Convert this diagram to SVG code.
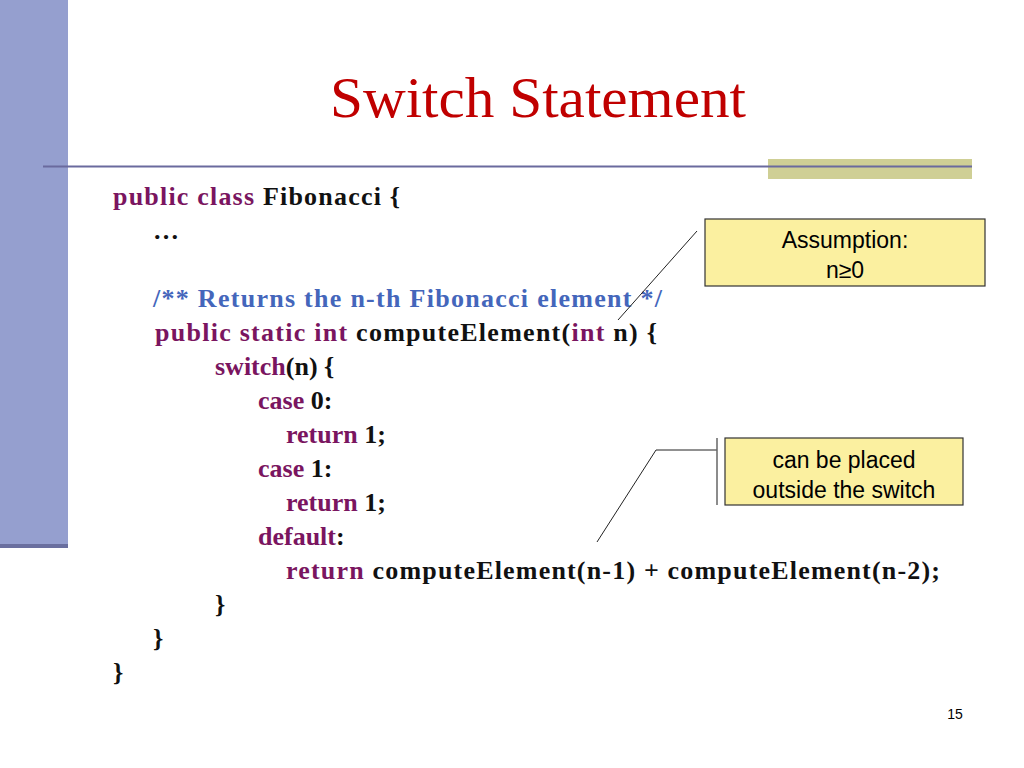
<svg xmlns="http://www.w3.org/2000/svg" width="1024" height="768" viewBox="0 0 1024 768">
<style>
.c{font-family:"Liberation Serif",serif;font-weight:bold;font-size:26px;fill:#111}
.k{fill:#7a1560}.m{fill:#4466bb}
.n{font-family:"Liberation Sans",sans-serif;font-size:23px;fill:#000;text-anchor:middle}
.box{fill:#fbf0a0;stroke:#333;stroke-width:1.2}
.ln{stroke:#222;stroke-width:1;fill:none}
</style>
<rect width="1024" height="768" fill="#fff"/>
<rect x="0" y="0" width="68" height="545" fill="#959fcf"/>
<rect x="0" y="544" width="68" height="4" fill="#6a6f9f"/>
<rect x="768" y="159" width="204" height="20" fill="#cfcf95"/>
<line x1="43" y1="166.5" x2="972" y2="166.5" stroke="#6a6a9e" stroke-width="2"/>
<text x="330" y="117" textLength="416" lengthAdjust="spacingAndGlyphs" font-family="Liberation Serif,serif" font-size="56" fill="#c00000">Switch Statement</text>
<g id="code" class="c">
<text x="113" y="205" textLength="287"><tspan class="k">public class</tspan> Fibonacci {</text>
<text x="153" y="239">…</text>
<text x="153" y="307" class="m" textLength="509">/** Returns the n-th Fibonacci element */</text>
<text x="155" y="341" textLength="502"><tspan class="k">public static int</tspan> computeElement(<tspan class="k">int</tspan> n) {</text>
<text x="215" y="375"><tspan class="k">switch</tspan>(n) {</text>
<text x="258" y="409"><tspan class="k">case</tspan> 0:</text>
<text x="286" y="443"><tspan class="k">return</tspan> 1;</text>
<text x="258" y="477"><tspan class="k">case</tspan> 1:</text>
<text x="286" y="511"><tspan class="k">return</tspan> 1;</text>
<text x="258" y="545"><tspan class="k">default</tspan>:</text>
<text x="286" y="579" textLength="654"><tspan class="k">return</tspan> computeElement(n-1) + computeElement(n-2);</text>
<text x="215" y="613">}</text>
<text x="153" y="647">}</text>
<text x="113" y="681">}</text>
</g>
<g id="connectors">
<line class="ln" x1="697" y1="231" x2="618" y2="320"/>
<polyline class="ln" points="597,542 656,450 717,450"/>
<line x1="717" y1="438" x2="717" y2="505" stroke="#666" stroke-width="1.5"/>
</g>
<g id="assumption">
<rect class="box" x="705" y="219" width="280" height="67"/>
<text class="n" x="845" y="248">Assumption:</text>
<text class="n" x="845" y="278">n≥0</text>
</g>
<g id="placed">
<rect class="box" x="725" y="438" width="238" height="67"/>
<text class="n" x="844" y="468">can be placed</text>
<text class="n" x="844" y="498">outside the switch</text>
</g>
<text x="955" y="719" text-anchor="middle" font-family="Liberation Sans,sans-serif" font-size="14" fill="#000">15</text>
</svg>
